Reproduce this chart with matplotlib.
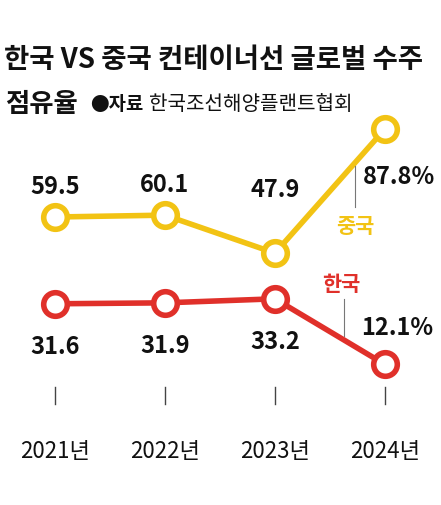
import matplotlib
matplotlib.use("Agg")
import matplotlib.pyplot as plt

plt.rcParams['font.family'] = ['Noto Sans CJK KR', 'DejaVu Sans']

years = ['2021년', '2022년', '2023년', '2024년']
china = [59.5, 60.1, 47.9, 87.8]
korea = [31.6, 31.9, 33.2, 12.1]
china_labels = ['59.5', '60.1', '47.9', '87.8%']
korea_labels = ['31.6', '31.9', '33.2', '12.1%']

yellow = '#F2C314'
red = '#E0302A'

W, H = 441, 506
fig = plt.figure(figsize=(W / 100, H / 100), dpi=100)
ax = fig.add_axes([0, 0, 1, 1])
ax.set_xlim(-0.5, 3.51)
ax.set_ylim(-33.1, 129.6)
ax.axis('off')

x = list(range(len(years)))

ax.plot(x, china, color=yellow, lw=4, zorder=2)
ax.plot(x, china, 'o', ms=17, mfc='white', mec=yellow, mew=4, zorder=3)
ax.plot(x, korea, color=red, lw=4, zorder=2)
ax.plot(x, korea, 'o', ms=17, mfc='white', mec=red, mew=4, zorder=3)

# value labels
for i in range(3):
    dy = 10 if i < 2 else 20.5
    ax.text(x[i], china[i] + dy, china_labels[i],
            ha='center', va='center', fontsize=17, fontweight='bold', color='#111111')
    ax.text(x[i], korea[i] - 13.5, korea_labels[i],
            ha='center', va='center', fontsize=17, fontweight='bold', color='#111111')

ax.text(x[3] + 0.13, china[3] - 15, china_labels[3], ha='center', va='center',
        fontsize=17, fontweight='bold', color='#111111')
ax.text(x[3] + 0.11, korea[3] + 12, korea_labels[3], ha='center', va='center',
        fontsize=17, fontweight='bold', color='#111111')

# series names with leader lines
ax.text(x[3] - 0.27, china[3] - 31, '중국', ha='center', va='center',
        fontsize=15, fontweight='bold', color=yellow)
ax.plot([x[3] - 0.27, x[3] - 0.27], [china[3] - 12, china[3] - 25], color='#777777', lw=0.8)
ax.text(x[3] - 0.4, korea[3] + 26, '한국', ha='center', va='center',
        fontsize=15, fontweight='bold', color=red)
ax.plot([x[3] - 0.37, x[3] - 0.37], [korea[3] + 21, korea[3] + 9], color='#777777', lw=0.8)

# ticks and year labels
for i, yr in enumerate(years):
    ax.plot([x[i], x[i]], [4.8, -0.6], color='#444444', lw=1)
    ax.text(x[i], -15.5, yr, ha='center', va='center', fontsize=16,
            fontweight='light', color='#111111')

fig.text(0.008, 1 - 60 / H, '한국 VS 중국 컨테이너선 글로벌 수주', ha='left', va='center',
         fontsize=19.8, fontweight='bold', color='#111111')
fig.text(0.012, 1 - 104 / H, '점유율', ha='left', va='center',
         fontsize=19, fontweight='bold', color='#111111')
fig.text(0.204, 1 - 104 / H, '●자료', ha='left', va='center',
         fontsize=13.5, fontweight='bold', color='#111111')
fig.text(0.338, 1 - 104 / H, '한국조선해양플랜트협회', ha='left', va='center',
         fontsize=14.5, fontweight='light', color='#111111')

fig.savefig('out.png', dpi=100)
